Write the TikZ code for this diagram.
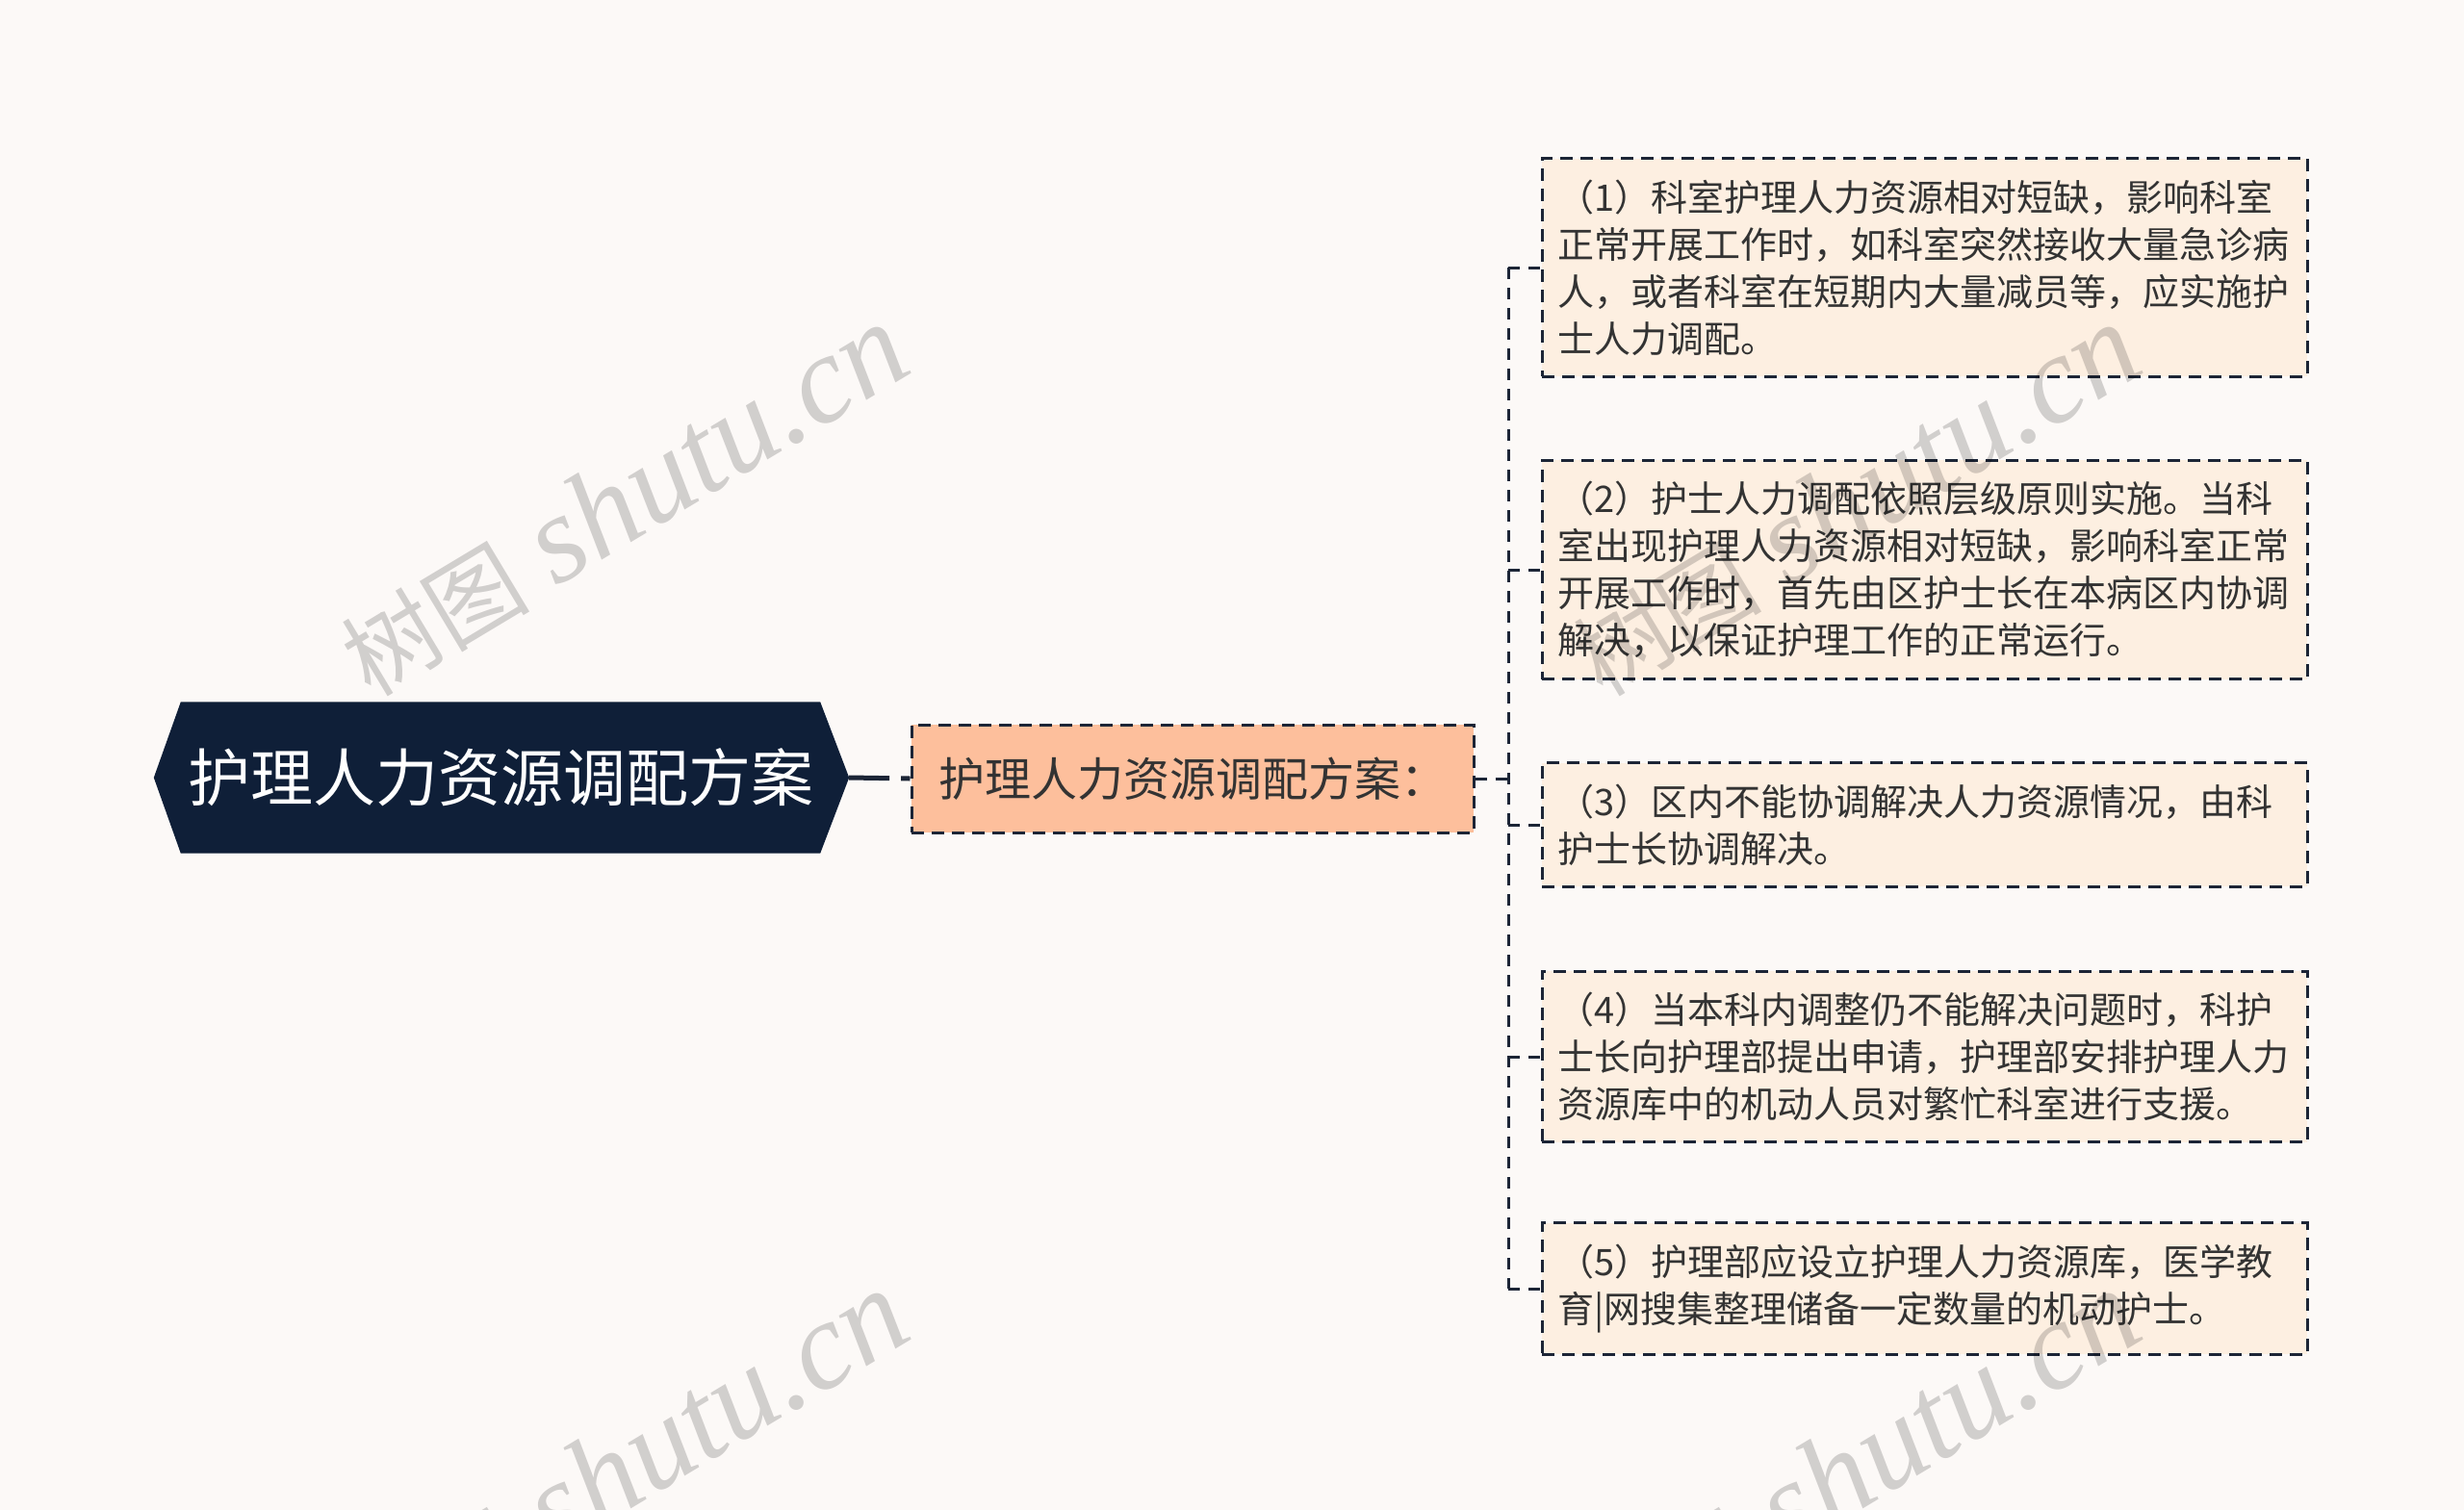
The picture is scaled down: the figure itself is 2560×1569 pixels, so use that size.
\documentclass[tikz,border=0pt]{standalone}
\usepackage{fontspec}
\setmainfont{Noto Sans CJK SC}
\newfontfamily\wmserif{Liberation Serif}
\usetikzlibrary{calc}
\definecolor{bgcol}{HTML}{FCF9F7}
\definecolor{rootfill}{HTML}{0F1F38}
\definecolor{lvfill}{HTML}{FDBF9C}
\definecolor{leaffill}{HTML}{FDEFE1}
\definecolor{linecol}{HTML}{1C2536}
\definecolor{txtcol}{HTML}{333333}
\pgfdeclarelayer{bg}
\pgfsetlayers{bg,main}
\newcommand{\wmtext}{{\fontsize{98}{110}\selectfont 树图}\hspace{28pt}{\wmserif\itshape\fontsize{130}{140}\selectfont shutu.cn}}
\tikzset{
  rootbox/.style={minimum width=664pt, minimum height=157pt, inner sep=0pt, text=white,
    font=\fontsize{65}{70}\selectfont},
  lvbox/.style={fill=lvfill, draw=linecol, line width=3pt, dash pattern=on 13pt off 8pt,
    minimum width=584pt, minimum height=112pt, inner sep=0pt, text=txtcol,
    font=\fontsize{48}{56}\selectfont},
  leafbox/.style={fill=leaffill, draw=linecol, line width=3pt, dash pattern=on 13pt off 8pt,
    text width=762pt, align=left, inner xsep=16.5pt, inner ysep=22pt, text=txtcol,
    font=\fontsize{38}{49}\selectfont},
  conn/.style={draw=linecol, line width=3pt, dash pattern=on 12pt off 9pt},
  rootconn/.style={draw=linecol, line width=5pt, dash pattern=on 42pt off 12pt},
  wm/.style={rotate=31, text=black, opacity=0.17}
}
\begin{document}
\begin{tikzpicture}[x=1pt,y=-1pt]
\begin{pgfonlayer}{bg}
\fill[bgcol] (0,0) rectangle (2560,1569);
\end{pgfonlayer}
\useasboundingbox (0,0) rectangle (2560,1569);

% root
\node[rootbox] (root) at (520,808) {护理人力资源调配方案};
\begin{pgfonlayer}{bg}
\fill[rootfill] ([xshift=-28pt]root.west) -- (root.north west) -- (root.north east)
  -- ([xshift=30pt]root.east) -- (root.south east) -- (root.south west) -- cycle;
\end{pgfonlayer}

% level 1
\node[lvbox] (l1) at (1239,809) {护理人力资源调配方案：};

% leaves
\node[leafbox] (c1) at (1999.5,278) {（1）科室护理人力资源相对短缺，影响科室\\正常开展工作时，如科室突然接收大量急诊病\\人，或者科室在短期内大量减员等，应实施护\\士人力调配。};
\node[leafbox] (c2) at (1999.5,592) {（2）护士人力调配依照层级原则实施。当科\\室出现护理人力资源相对短缺，影响科室正常\\开展工作时，首先由区护士长在本病区内协调\\解决，以保证护理工作的正常运行。};
\node[leafbox] (c3) at (1999.5,857) {（3）区内不能协调解决人力资源情况，由科\\护士长协调解决。};
\node[leafbox] (c4) at (1999.5,1098) {（4）当本科内调整仍不能解决问题时，科护\\士长向护理部提出申请，护理部安排护理人力\\资源库中的机动人员对繁忙科室进行支援。};
\node[leafbox] (c5) at (1999.5,1339) {（5）护理部应设立护理人力资源库，医学教\\育|网搜集整理储备一定数量的机动护士。};

% connectors
\coordinate (jx) at (1567,809);
\draw[rootconn] ([xshift=30pt]root.east) -- (l1.west);
\draw[conn] (l1.east) -- (jx);
\draw[conn] (c1.west -| jx) -- (c5.west -| jx);
\foreach \c in {c1,c2,c3,c4,c5}{
  \draw[conn] (\c.west -| jx) -- (\c.west);
}

% watermarks
\begin{scope}
\clip (0,0) rectangle (2560,1569);
\node[wm] (wm1) at (648,520) {\wmtext};
\node[wm] (wm2) at (1928,520) {\wmtext};
\node[wm] (wm3) at (648,1524) {\wmtext};
\node[wm] (wm4) at (1928,1524) {\wmtext};
\end{scope}
\end{tikzpicture}
\end{document}
